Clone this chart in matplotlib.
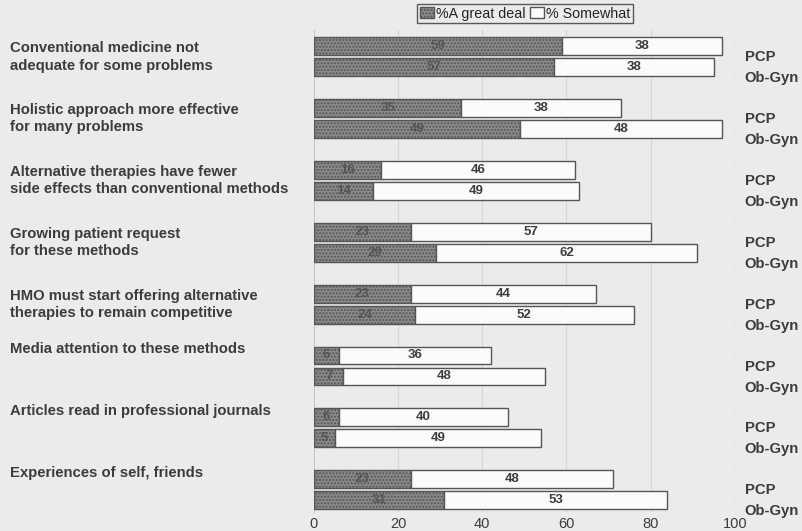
import matplotlib
matplotlib.use("Agg")
import matplotlib.pyplot as plt
from matplotlib.patches import Patch

plt.rcParams['font.family'] = ['Liberation Sans', 'DejaVu Sans']

# Datos
categorias = [
    "Conventional medicine not\nadequate for some problems",
    "Holistic approach more effective\nfor many problems",
    "Alternative therapies have fewer\nside effects than conventional methods",
    "Growing patient request\nfor these methods",
    "HMO must start offering alternative\ntherapies to remain competitive",
    "Media attention to these methods",
    "Articles read in professional journals",
    "Experiences of self, friends",
]
grupos = ["PCP", "Ob-Gyn"]
pcp_mucho = [59, 35, 16, 23, 23, 6, 6, 23]
pcp_algo = [38, 38, 46, 57, 44, 36, 40, 48]
obgyn_mucho = [57, 49, 14, 29, 24, 7, 5, 31]
obgyn_algo = [38, 48, 49, 62, 52, 48, 49, 53]
ticks_x = [0, 20, 40, 60, 80, 100]

fondo = '#ebebeb'
oscuro = '#8a8a8a'
claro = '#fbfbfb'
borde = '#555555'
texto = '#3c3c3c'

fig = plt.figure(figsize=(8.03, 5.31), dpi=100, facecolor=fondo)
ax = fig.add_axes([0.391, 0.036, 0.524, 0.907])
ax.set_facecolor(fondo)

off = 0.17
alto = 0.29
for i in range(len(categorias)):
    for y, mucho, algo in [(i - off, pcp_mucho[i], pcp_algo[i]),
                           (i + off, obgyn_mucho[i], obgyn_algo[i])]:
        ax.barh(y, mucho, height=alto, color=oscuro, edgecolor=borde,
                linewidth=1.0, hatch='.....', zorder=3)
        ax.barh(y, algo, left=mucho, height=alto, color=claro,
                edgecolor=borde, linewidth=1.0, zorder=3)
        ax.text(mucho / 2, y, str(mucho), ha='center', va='center',
                fontsize=9.5, fontweight='bold', color='#555555', zorder=4)
        ax.text(mucho + algo / 2, y, str(algo), ha='center', va='center',
                fontsize=9.5, fontweight='bold', color=texto, zorder=4)

    # etiqueta de la izquierda
    dy = 0 if "\n" in categorias[i] else -0.27
    ax.text(-0.723, i + dy, categorias[i], transform=ax.get_yaxis_transform(),
            ha='left', va='center', fontsize=10.7, fontweight='bold',
            color=texto, linespacing=1.3)
    # etiquetas de la derecha
    ax.text(1.024, i - off + 0.18, grupos[0], transform=ax.get_yaxis_transform(),
            ha='left', va='center', fontsize=10.7, fontweight='bold', color=texto)
    ax.text(1.024, i + off + 0.18, grupos[1], transform=ax.get_yaxis_transform(),
            ha='left', va='center', fontsize=10.7, fontweight='bold', color=texto)

ax.set_xlim(0, 100)
ax.set_ylim(7.36, -0.43)
ax.set_xticks(ticks_x)
ax.set_xticklabels([str(t) for t in ticks_x], fontsize=10.5, color=texto)
ax.set_yticks([])
ax.tick_params(axis='x', length=0, pad=4)
for t in ticks_x[1:-1]:
    ax.axvline(t, color='#d6d6d6', linewidth=0.8, zorder=1)
ax.axvline(100, color='#b5b5b5', linewidth=0.8, linestyle=':', zorder=1)
for s in ['top', 'right', 'bottom']:
    ax.spines[s].set_visible(False)
ax.spines['left'].set_color('#c8c8c8')

manijas = [Patch(facecolor=oscuro, edgecolor=borde, hatch='.....'),
           Patch(facecolor=claro, edgecolor=borde)]
leg = fig.legend(manijas, ["%A great deal", "% Somewhat"], ncol=2,
                 loc='upper center', bbox_to_anchor=(0.654, 0.993),
                 fontsize=10.3, frameon=True, fancybox=False,
                 handlelength=1.0, handleheight=0.8, handletextpad=0.15,
                 columnspacing=0.3, borderpad=0.2, borderaxespad=0)
leg.get_frame().set_edgecolor('#333333')
leg.get_frame().set_facecolor(fondo)
for t in leg.get_texts():
    t.set_color('#222222')

fig.savefig("out.png", dpi=100, facecolor=fondo)
